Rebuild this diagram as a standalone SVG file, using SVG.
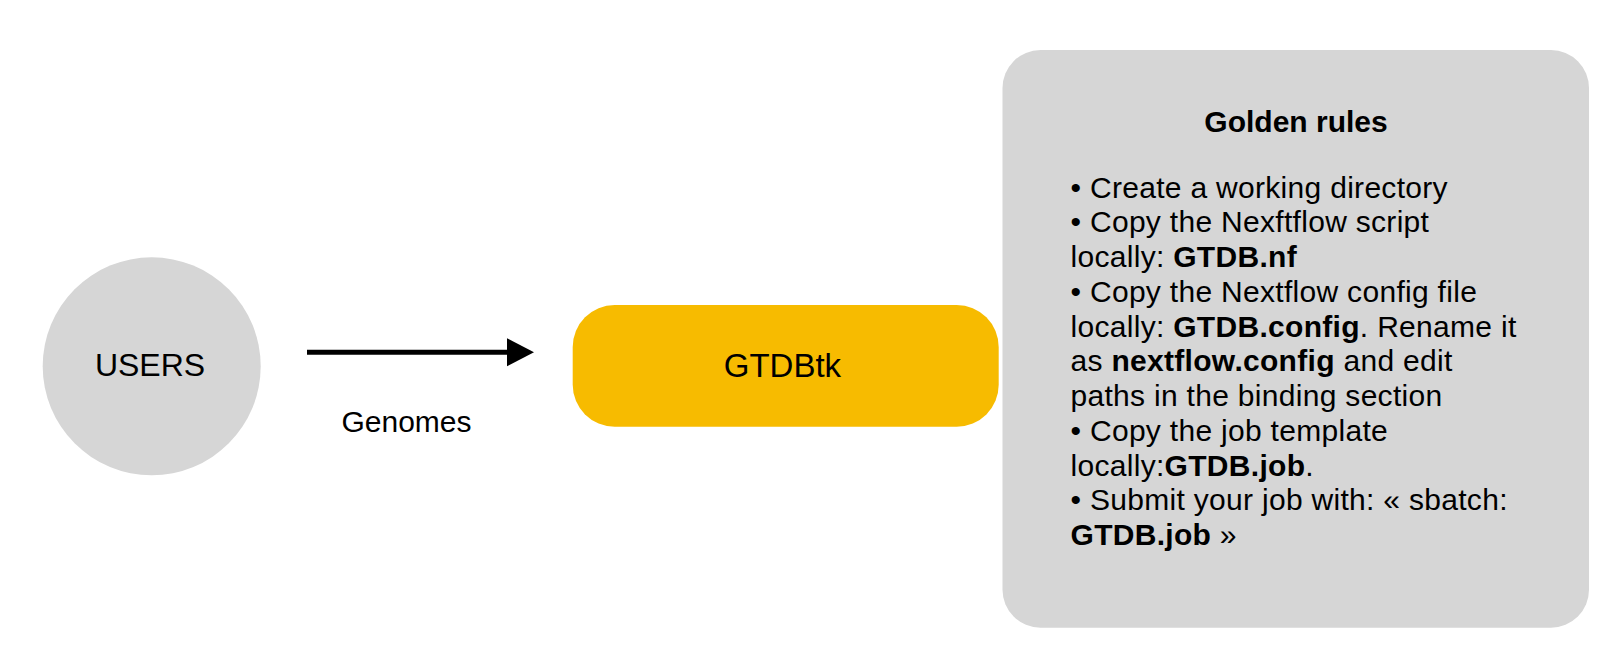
<svg xmlns="http://www.w3.org/2000/svg" width="1610" height="663" viewBox="0 0 1610 663">
  <style>
    text { font-family: "Liberation Sans", Arial, Helvetica, sans-serif; fill: #000; }
    .node-gray { fill: #d6d6d6; }
    .node-orange { fill: #f7bb00; }
    .label { font-size: 32px; text-anchor: middle; }
    .edge-label { font-size: 30px; text-anchor: middle; }
    .rules { font-size: 30px; letter-spacing: 0.3px; }
    .title { font-size: 30px; font-weight: bold; text-anchor: middle; }
    .b { font-weight: bold; }
    .conn { stroke: #000; stroke-width: 5; fill: none; }
  </style>
  <defs>
    <marker id="arrow" markerUnits="userSpaceOnUse" markerWidth="27" markerHeight="28" refX="1" refY="14" orient="auto" overflow="visible">
      <path d="M0,0 L27,14 L0,28 Z" fill="#000"/>
    </marker>
  </defs>
  <rect width="1610" height="663" fill="#fff"/>

  <g id="connectors">
    <line class="conn" x1="307" y1="352.3" x2="508" y2="352.3" marker-end="url(#arrow)"/>
    <text class="edge-label" x="406.5" y="432">Genomes</text>
  </g>

  <g id="users">
    <circle class="node-gray" cx="151.7" cy="366.3" r="109"/>
    <text class="label" x="150" y="376">USERS</text>
  </g>

  <g id="gtdbtk">
    <rect class="node-orange" x="572.7" y="305" width="426" height="121.7" rx="42" ry="42"/>
    <text class="label" x="782.4" y="377" style="font-size:33px">GTDBtk</text>
  </g>

  <g id="golden-rules">
    <rect class="node-gray" x="1002.5" y="50" width="586.5" height="577.7" rx="38" ry="38"/>
    <text class="title" x="1296" y="131.5">Golden rules</text>
    <text class="rules" x="1070.5" y="197.5">• Create a working directory</text>
    <text class="rules" x="1070.5" y="232.25">• Copy the Nexftflow script</text>
    <text class="rules" x="1070.5" y="267">locally: <tspan class="b">GTDB.nf</tspan></text>
    <text class="rules" x="1070.5" y="301.75">• Copy the Nextflow config file</text>
    <text class="rules" x="1070.5" y="336.5">locally: <tspan class="b">GTDB.config</tspan>. Rename it</text>
    <text class="rules" x="1070.5" y="371.25">as <tspan class="b">nextflow.config</tspan> and edit</text>
    <text class="rules" x="1070.5" y="406">paths in the binding section</text>
    <text class="rules" x="1070.5" y="440.75">• Copy the job template</text>
    <text class="rules" x="1070.5" y="475.5">locally:<tspan class="b">GTDB.job</tspan>.</text>
    <text class="rules" x="1070.5" y="510.25">• Submit your job with: « sbatch:</text>
    <text class="rules" x="1070.5" y="545"><tspan class="b">GTDB.job</tspan> »</text>
  </g>
</svg>
